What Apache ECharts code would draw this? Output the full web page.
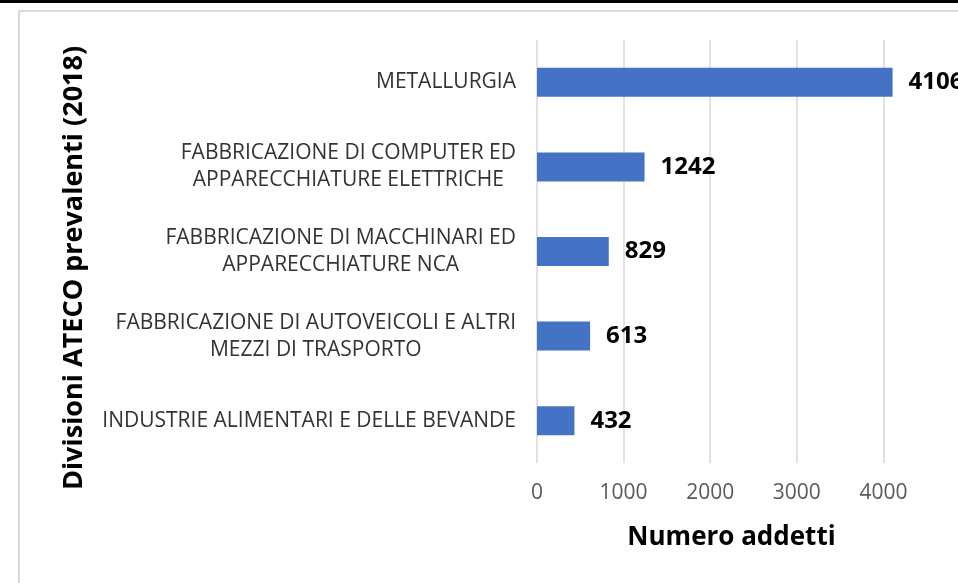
<!DOCTYPE html>
<html>
<head>
<meta charset="utf-8">
<script src="https://cdn.jsdelivr.net/npm/echarts@6/dist/echarts.min.js"></script>
<style>
  html, body { margin: 0; padding: 0; background: #fff; }
  #chart { width: 958px; height: 583px; }
</style>
</head>
<body>
<div id="chart"></div>
<script>
const categories = [
    'METALLURGIA',
    'FABBRICAZIONE DI COMPUTER ED\nAPPARECCHIATURE ELETTRICHE',
    'FABBRICAZIONE DI MACCHINARI ED\nAPPARECCHIATURE NCA',
    'FABBRICAZIONE DI AUTOVEICOLI E ALTRI\nMEZZI DI TRASPORTO',
    'INDUSTRIE ALIMENTARI E DELLE BEVANDE',
];
const addetti = [4106, 1242, 829, 613, 432];
const xTicks = [0, 1000, 2000, 3000, 4000];

const font = '"Open Sans", sans-serif';

const chart = echarts.init(document.getElementById('chart'));
chart.setOption({
    animation: false,
    textStyle: { fontFamily: font },
    grid: {
        left: 537, top: 40, width: 433, height: 423,
        containLabel: false, outerBoundsMode: 'none',
    },
    graphic: [
        { type: 'rect', shape: { x: 0, y: 0, width: 958, height: 3 }, style: { fill: '#000' } },
        {
            type: 'rect',
            shape: { x: 19, y: 11, width: 1000, height: 600 },
            style: { fill: null, stroke: '#d9d9d9', lineWidth: 2 },
        },
        {
            type: 'text',
            x: 74,
            y: 268,
            rotation: Math.PI / 2,
            style: {
                text: 'Divisioni ATECO prevalenti (2018)',
                font: 'bold 27px ' + font,
                fill: '#000',
                align: 'center',
                verticalAlign: 'middle',
            },
        },
    ],
    xAxis: {
        type: 'value',
        min: 0,
        max: 5000,
        interval: 1000,
        name: 'Numero addetti',
        nameLocation: 'middle',
        nameGap: 62,
        nameTextStyle: {
            fontSize: 26, fontWeight: 'bold', color: '#000', align: 'center',
            padding: [0, 44, 0, 0],
        },
        axisLine: { show: false },
        axisTick: { show: false },
        splitLine: { lineStyle: { color: '#d9d9d9', width: 1.5 } },
        axisLabel: {
            margin: 20,
            fontSize: 21,
            color: '#595959',
            formatter: v => (xTicks.indexOf(v) >= 0 ? String(v) : ''),
        },
    },
    yAxis: {
        type: 'category',
        data: categories,
        inverse: true,
        axisLine: { show: false },
        axisTick: { show: false },
        axisLabel: {
            margin: 21,
            color: '#333',
            formatter: v => v.split('\n').map(s => '{c|' + s + '}').join('\n'),
            rich: { c: { fontSize: 21, lineHeight: 27, align: 'center', color: '#333', fontFamily: font } },
        },
    },
    series: [
        {
            type: 'bar',
            data: addetti,
            barWidth: 29,
            itemStyle: { color: '#4472C4' },
            label: {
                show: true,
                position: 'right',
                distance: 16,
                fontSize: 24,
                fontWeight: 'bold',
                color: '#000',
            },
        },
    ],
});
</script>
</body>
</html>
